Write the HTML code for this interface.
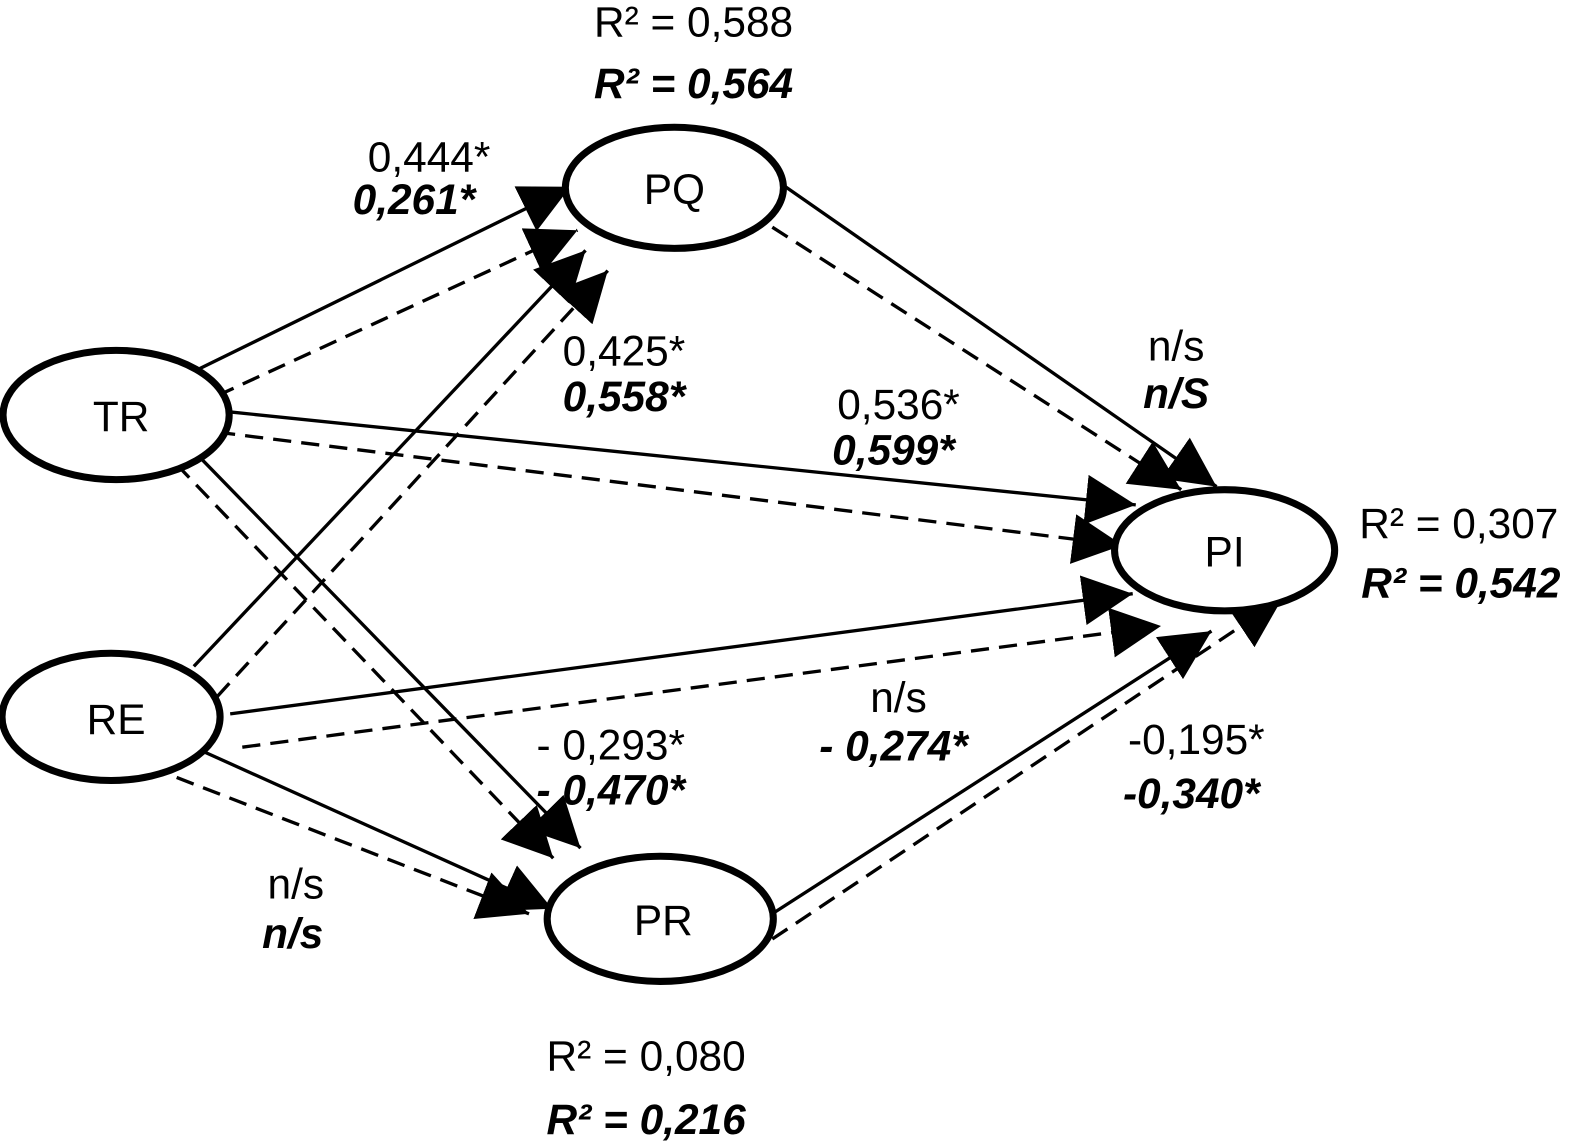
<!DOCTYPE html>
<html><head><meta charset="utf-8"><style>
html,body{margin:0;padding:0;background:#fff;}
svg{display:block;}
text{font-family:"Liberation Sans",sans-serif;font-size:42px;fill:#000;}
.b{font-weight:bold;font-style:italic;}
</style></head><body>
<svg width="1583" height="1145" viewBox="0 0 1568 1134" preserveAspectRatio="none">
<defs>
<marker id="h" viewBox="0 0 10 10" refX="10" refY="5" markerWidth="15" markerHeight="15" orient="auto"><path d="M0,0 L10,5 L0,10 z" fill="#000"/></marker>
</defs>
<g stroke="#000" stroke-width="3.3" fill="none" marker-end="url(#h)">
<line x1="198" y1="365" x2="565" y2="185"/>
<line x1="215" y1="392" x2="572" y2="228" stroke-dasharray="18,10"/>
<line x1="192" y1="660" x2="580" y2="248"/>
<line x1="215" y1="690" x2="602" y2="268" stroke-dasharray="18,10"/>
<line x1="228" y1="408" x2="1125" y2="500"/>
<line x1="215" y1="428" x2="1112" y2="540" stroke-dasharray="18,10"/>
<line x1="200" y1="455" x2="575" y2="840"/>
<line x1="175" y1="460" x2="548" y2="850" stroke-dasharray="18,10"/>
<line x1="228" y1="707" x2="1122" y2="588"/>
<line x1="240" y1="740" x2="1150" y2="620" stroke-dasharray="18,10"/>
<line x1="203" y1="745" x2="547" y2="900"/>
<line x1="175" y1="770" x2="524" y2="905" stroke-dasharray="18,10"/>
<line x1="778" y1="185" x2="1205" y2="482"/>
<line x1="765" y1="225" x2="1170" y2="485" stroke-dasharray="18,10"/>
<line x1="765" y1="905" x2="1200" y2="625"/>
<line x1="765" y1="930" x2="1270" y2="593" stroke-dasharray="18,10"/>
</g>
<g stroke="#000" stroke-width="7" fill="#fff">
<ellipse cx="668" cy="186" rx="108" ry="60"/>
<ellipse cx="1213" cy="545" rx="109" ry="60"/>
<ellipse cx="115" cy="411" rx="112" ry="64"/>
<ellipse cx="110" cy="710" rx="108" ry="63"/>
<ellipse cx="654" cy="910" rx="112" ry="62"/>
</g>
<g text-anchor="middle">
<text x="668" y="202">PQ</text>
<text x="1213" y="561">PI</text>
<text x="120" y="427">TR</text>
<text x="115" y="727">RE</text>
<text x="657" y="926">PR</text>
<text x="687" y="36">R² = 0,588</text>
<text x="687" y="97" class="b">R² = 0,564</text>
<text x="425" y="170">0,444*</text>
<text x="410" y="212" class="b">0,261*</text>
<text x="618" y="362">0,425*</text>
<text x="618" y="407" class="b">0,558*</text>
<text x="1165" y="357">n/s</text>
<text x="1165" y="404" class="b">n/S</text>
<text x="890" y="415">0,536*</text>
<text x="885" y="460" class="b">0,599*</text>
<text x="1445" y="533">R² = 0,307</text>
<text x="1447" y="592" class="b">R² = 0,542</text>
<text x="890" y="705">n/s</text>
<text x="885" y="753" class="b">- 0,274*</text>
<text x="605" y="752">- 0,293*</text>
<text x="605" y="797" class="b">- 0,470*</text>
<text x="1185" y="747">-0,195*</text>
<text x="1180" y="800" class="b">-0,340*</text>
<text x="293" y="890">n/s</text>
<text x="290" y="939" class="b">n/s</text>
<text x="640" y="1060">R² = 0,080</text>
<text x="640" y="1123" class="b">R² = 0,216</text>
</g>
</svg>
</body></html>
